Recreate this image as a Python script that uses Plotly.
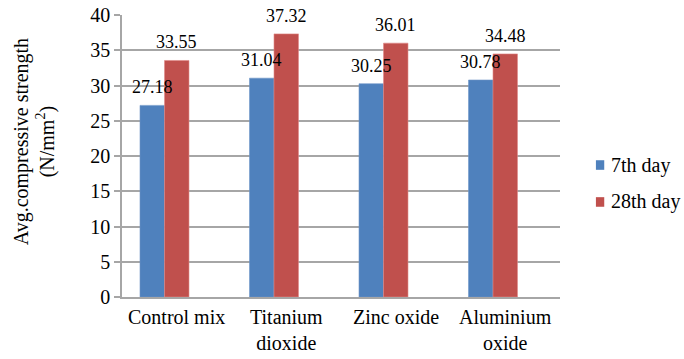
import plotly.graph_objects as go

categories = ["Control mix", "Titanium<br>dioxide", "Zinc oxide", "Aluminium<br>oxide"]
day7 = [27.18, 31.04, 30.25, 30.78]
day28 = [33.55, 37.32, 36.01, 34.48]
y_ticks = [0, 5, 10, 15, 20, 25, 30, 35, 40]
series_names = ["7th day", "28th day"]

FONT = "Liberation Serif"
BLUE = "#4F81BD"
RED = "#C0504D"
GRID = "#A6A6A6"

# bar geometry in category units (three slots per group, third slot left empty)
BAR_W = 0.2237
OFF_7 = -0.3356
OFF_28 = OFF_7 + BAR_W
PX_PER_CAT = 109.5

fig = go.Figure()
fig.add_trace(go.Bar(
    x=categories, y=day7, name=series_names[0],
    width=BAR_W, offset=OFF_7,
    marker=dict(color=BLUE, line=dict(color="#6E95C8", width=0.6)),
))
fig.add_trace(go.Bar(
    x=categories, y=day28, name=series_names[1],
    width=BAR_W, offset=OFF_28,
    marker=dict(color=RED, line=dict(color="#E08A88", width=0.6)),
))

# value labels above each bar
for series, off in ((day7, OFF_7), (day28, OFF_28)):
    for cat, v in zip(categories, series):
        fig.add_annotation(
            x=cat, y=v, xref="x", yref="y", text=f"{v:.2f}",
            showarrow=False, yanchor="bottom", yshift=6,
            xshift=(off + BAR_W / 2) * PX_PER_CAT,
            font=dict(family=FONT, size=18, color="black"),
        )

# category labels under the axis
for cat in categories:
    fig.add_annotation(
        x=cat, y=0, xref="x", yref="y", text=cat,
        showarrow=False, yanchor="top", yshift=-7,
        font=dict(family=FONT, size=20, color="black"),
    )

# y-axis title
fig.add_annotation(
    x=-0.2, y=0.55, xref="paper", yref="paper", textangle=-90,
    text="Avg.compressive strength<br>(N/mm<sup>2</sup>)",
    showarrow=False, xanchor="center", yanchor="middle",
    font=dict(family=FONT, size=20, color="black"),
)

# legend: colour square + label, placed in the right margin
for i, (name, col) in enumerate(zip(series_names, (BLUE, RED))):
    yc = 0.468 - i * 0.131
    fig.add_shape(type="rect", xref="paper", yref="paper",
                  x0=1.082, x1=1.101, y0=yc - 0.017, y1=yc + 0.017,
                  fillcolor=col, line=dict(width=0))
    fig.add_annotation(x=1.112, y=yc, xref="paper", yref="paper",
                       text=name, showarrow=False, xanchor="left",
                       yanchor="middle",
                       font=dict(family=FONT, size=20, color="black"))

fig.update_layout(
    template="none",
    width=684, height=359,
    margin=dict(l=122, r=124, t=15, b=62),
    paper_bgcolor="white", plot_bgcolor="white",
    font=dict(family=FONT, size=20, color="black"),
    barmode="overlay",
    showlegend=False,
    xaxis=dict(
        type="category", range=[-0.5, 3.5], automargin=False,
        showline=True, linecolor=GRID, linewidth=2,
        ticks="", showgrid=False, showticklabels=False,
    ),
    yaxis=dict(
        range=[0, 40], tickvals=y_ticks, automargin=False,
        showline=True, linecolor=GRID, linewidth=1.5,
        showgrid=True, gridcolor=GRID, gridwidth=1.5,
        ticks="outside", ticklen=6, tickcolor=GRID, tickwidth=1.5,
        tickfont=dict(family=FONT, size=20, color="black"),
        zeroline=False,
    ),
)

fig.write_html("out.html")
